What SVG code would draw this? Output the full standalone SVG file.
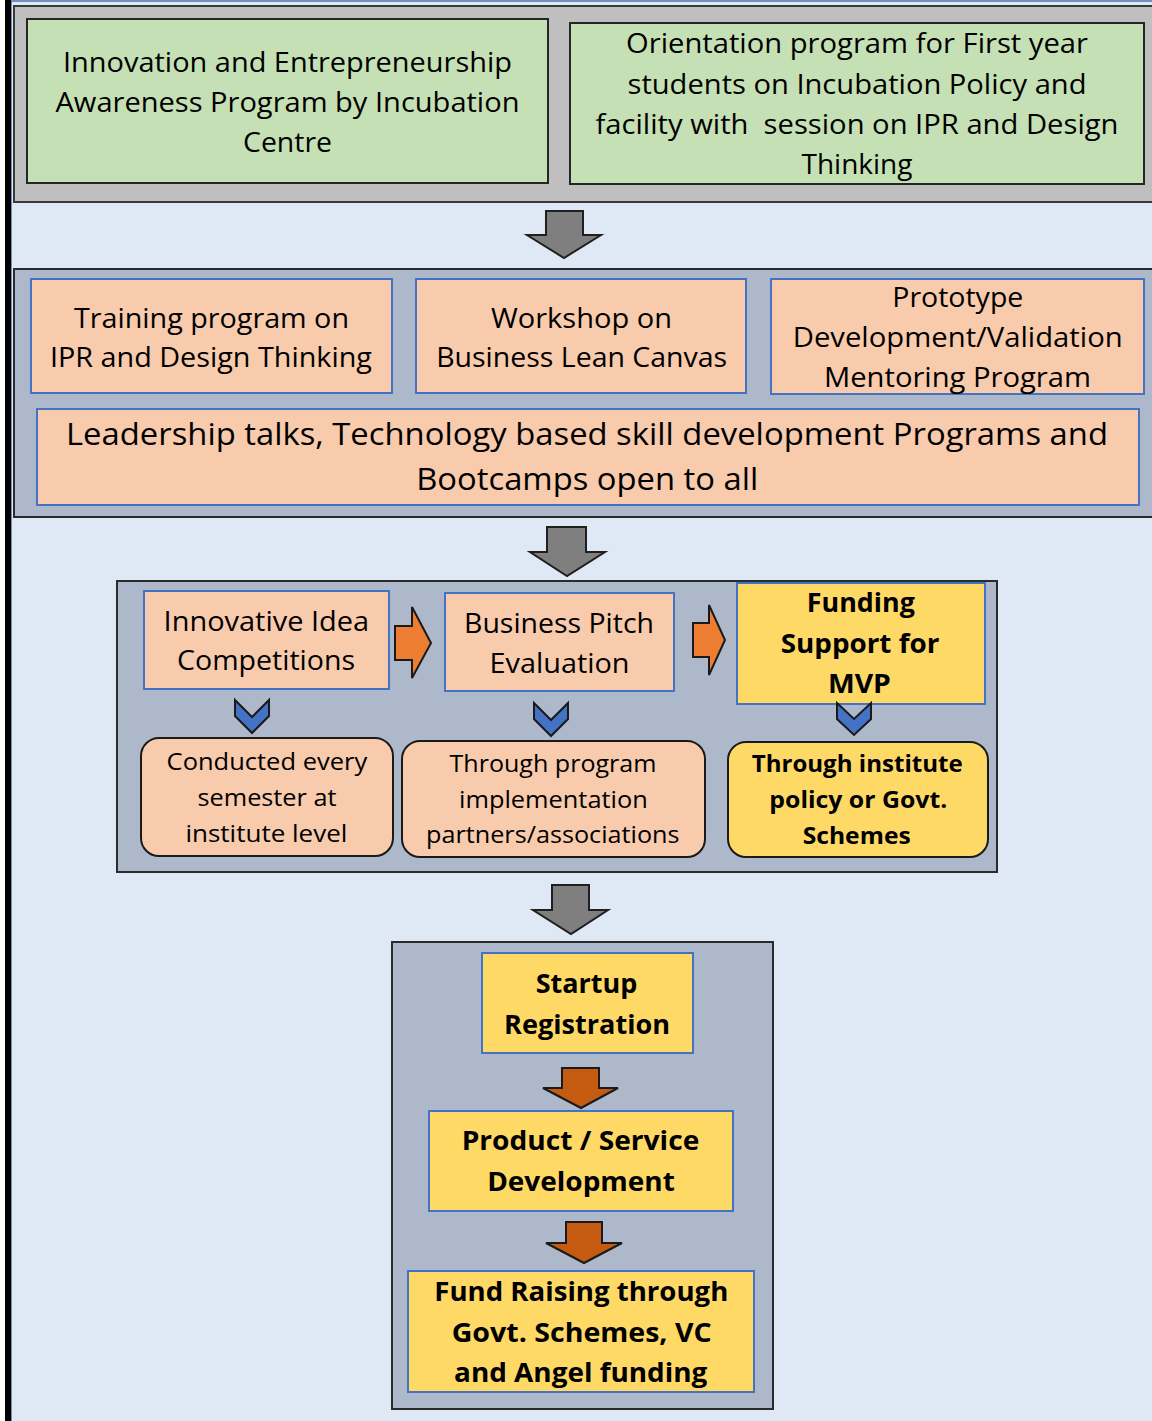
<svg xmlns="http://www.w3.org/2000/svg" width="1152" height="1421" viewBox="0 0 1152 1421">
<style>
text{font-family:"Open Sans","Noto Sans","Liberation Sans",sans-serif;fill:#000;text-anchor:middle}
.t28{font-size:28px}
.t31{font-size:31px}
.t24{font-size:24px}
.b27{font-size:27px;font-weight:bold}
.b24{font-size:24px;font-weight:bold}
.panel{fill:#adb9ca;stroke:#2b2b2b;stroke-width:2}
.gpanel{fill:#bfbfbf;stroke:#3a3a3a;stroke-width:2}
.green{fill:#c5e0b4;stroke:#262626;stroke-width:2}
.peach{fill:#f8cbad;stroke:#4472c4;stroke-width:2}
.yellow{fill:#ffd966;stroke:#4472c4;stroke-width:2}
.rpeach{fill:#f8cbad;stroke:#1a1a1a;stroke-width:2}
.ryellow{fill:#ffd966;stroke:#1a1a1a;stroke-width:2}
.garrow{fill:#7f7f7f;stroke:#1f1f1f;stroke-width:2;stroke-linejoin:miter}
.oarrow{fill:#ed7d31;stroke:#1a1a1a;stroke-width:2}
.barrow{fill:#c55a11;stroke:#1a1a1a;stroke-width:2}
.chev{fill:#4472c4;stroke:#1a1a1a;stroke-width:2}
</style>
<rect x="0" y="0" width="1152" height="1421" fill="#ffffff"/>
<rect x="11" y="1" width="1150" height="1430" fill="#dee9f5" stroke="#4a6fa5" stroke-width="1.5"/>
<rect x="5" y="0" width="6" height="1421" fill="#000"/>

<g id="panel-awareness">
<rect class="gpanel" x="14" y="6" width="1150" height="196"/>
</g>
<g id="node-awareness-program">
<rect class="green" x="27" y="19" width="521" height="164"/>
<text class="t28" x="287.5" y="72" textLength="449" lengthAdjust="spacingAndGlyphs">Innovation and Entrepreneurship</text>
<text class="t28" x="287.5" y="112" textLength="464" lengthAdjust="spacingAndGlyphs">Awareness Program by Incubation</text>
<text class="t28" x="287.5" y="152" textLength="89" lengthAdjust="spacingAndGlyphs">Centre</text>
</g>
<g id="node-orientation">
<rect class="green" x="570" y="23" width="574" height="161"/>
<text class="t28" x="857" y="53" textLength="462" lengthAdjust="spacingAndGlyphs">Orientation program for First year</text>
<text class="t28" x="857" y="94" textLength="459" lengthAdjust="spacingAndGlyphs">students on Incubation Policy and</text>
<text class="t28" x="857" y="134" textLength="523" lengthAdjust="spacingAndGlyphs" style="white-space:pre">facility with  session on IPR and Design</text>
<text class="t28" x="857" y="174" textLength="111" lengthAdjust="spacingAndGlyphs">Thinking</text>
</g>

<g id="panel-training">
<rect class="panel" x="14" y="269" width="1150" height="248"/>
</g>
<g id="node-ipr-training">
<rect class="peach" x="31" y="279" width="361" height="114"/>
<text class="t28" x="211.5" y="328" textLength="275" lengthAdjust="spacingAndGlyphs">Training program on</text>
<text class="t28" x="211" y="367" textLength="322" lengthAdjust="spacingAndGlyphs">IPR and Design Thinking</text>
</g>
<g id="node-lean-canvas">
<rect class="peach" x="416" y="279" width="330" height="114"/>
<text class="t28" x="581.5" y="328" textLength="181" lengthAdjust="spacingAndGlyphs">Workshop on</text>
<text class="t28" x="581.7" y="367" textLength="291" lengthAdjust="spacingAndGlyphs">Business Lean Canvas</text>
</g>
<g id="node-prototype">
<rect class="peach" x="771" y="279" width="373" height="115"/>
<text class="t28" x="957.8" y="307" textLength="131" lengthAdjust="spacingAndGlyphs">Prototype</text>
<text class="t28" x="957.7" y="347" textLength="330" lengthAdjust="spacingAndGlyphs">Development/Validation</text>
<text class="t28" x="957.5" y="387" textLength="267" lengthAdjust="spacingAndGlyphs">Mentoring Program</text>
</g>
<g id="node-leadership">
<rect class="peach" x="37" y="409" width="1102" height="96"/>
<text class="t31" x="587" y="445" textLength="1042" lengthAdjust="spacingAndGlyphs">Leadership talks, Technology based skill development Programs and</text>
<text class="t31" x="587.2" y="490" textLength="342" lengthAdjust="spacingAndGlyphs">Bootcamps open to all</text>
</g>

<g id="panel-ideas">
<rect class="panel" x="117" y="581" width="880" height="291"/>
</g>
<g id="node-idea-competitions">
<rect class="peach" x="144" y="591" width="245" height="98"/>
<text class="t28" x="266.3" y="631" textLength="205.5" lengthAdjust="spacingAndGlyphs">Innovative Idea</text>
<text class="t28" x="266" y="670" textLength="178" lengthAdjust="spacingAndGlyphs">Competitions</text>
</g>
<g id="node-pitch">
<rect class="peach" x="445" y="593" width="229" height="98"/>
<text class="t28" x="559" y="633" textLength="190" lengthAdjust="spacingAndGlyphs">Business Pitch</text>
<text class="t28" x="559.5" y="673" textLength="140" lengthAdjust="spacingAndGlyphs">Evaluation</text>
</g>
<g id="node-mvp">
<rect class="yellow" x="737" y="583" width="248" height="121"/>
<text class="b27" x="860.8" y="612" textLength="108" lengthAdjust="spacingAndGlyphs">Funding</text>
<text class="b27" x="860" y="653" textLength="158.6" lengthAdjust="spacingAndGlyphs">Support for</text>
<text class="b27" x="859.4" y="693" textLength="63" lengthAdjust="spacingAndGlyphs">MVP</text>
</g>
<g id="node-every-semester">
<rect class="rpeach" x="141" y="738" width="252" height="118" rx="18"/>
<text class="t24" x="266.9" y="770" textLength="200.6" lengthAdjust="spacingAndGlyphs">Conducted every</text>
<text class="t24" x="267" y="806" textLength="139" lengthAdjust="spacingAndGlyphs">semester at</text>
<text class="t24" x="266.4" y="842" textLength="162" lengthAdjust="spacingAndGlyphs">institute level</text>
</g>
<g id="node-partners">
<rect class="rpeach" x="402" y="741" width="303" height="116" rx="18"/>
<text class="t24" x="553" y="772" textLength="207" lengthAdjust="spacingAndGlyphs">Through program</text>
<text class="t24" x="553.4" y="808" textLength="188.7" lengthAdjust="spacingAndGlyphs">implementation</text>
<text class="t24" x="552.8" y="843" textLength="253.5" lengthAdjust="spacingAndGlyphs">partners/associations</text>
</g>
<g id="node-govt-schemes">
<rect class="ryellow" x="728" y="742" width="260" height="115" rx="18"/>
<text class="b24" x="857.2" y="772" textLength="211" lengthAdjust="spacingAndGlyphs">Through institute</text>
<text class="b24" x="858.3" y="808" textLength="178" lengthAdjust="spacingAndGlyphs">policy or Govt.</text>
<text class="b24" x="856.7" y="844" textLength="108" lengthAdjust="spacingAndGlyphs">Schemes</text>
</g>

<g id="panel-startup">
<rect class="panel" x="392" y="942" width="381" height="467"/>
</g>
<g id="node-startup-registration">
<rect class="yellow" x="482" y="953" width="211" height="100"/>
<text class="b27" x="586.5" y="993" textLength="101.6" lengthAdjust="spacingAndGlyphs">Startup</text>
<text class="b27" x="587" y="1034" textLength="166" lengthAdjust="spacingAndGlyphs">Registration</text>
</g>
<g id="node-product-development">
<rect class="yellow" x="429" y="1111" width="304" height="100"/>
<text class="b27" x="580.5" y="1150" textLength="237.6" lengthAdjust="spacingAndGlyphs">Product / Service</text>
<text class="b27" x="581" y="1191" textLength="187.7" lengthAdjust="spacingAndGlyphs">Development</text>
</g>
<g id="node-fund-raising">
<rect class="yellow" x="408" y="1271" width="346" height="121"/>
<text class="b27" x="581.3" y="1301" textLength="294" lengthAdjust="spacingAndGlyphs">Fund Raising through</text>
<text class="b27" x="581.7" y="1342" textLength="260" lengthAdjust="spacingAndGlyphs">Govt. Schemes, VC</text>
<text class="b27" x="580.7" y="1382" textLength="253.3" lengthAdjust="spacingAndGlyphs">and Angel funding</text>
</g>

<g id="connectors">
<path class="garrow" d="M546,211 H583 V235 H601 L564,258 L527,235 H546 Z"/>
<path class="garrow" d="M547,527 H586 V552 H605 L567,576 L530,552 H547 Z"/>
<path class="garrow" d="M552,885 H589 V910 H608 L571,934 L533,910 H552 Z"/>
<path class="oarrow" d="M395,626 H412 V607 L431,643 L412,678 V660 H395 Z"/>
<path class="oarrow" d="M693,623 H709 V605 L725,640 L709,675 V657 H693 Z"/>
<path class="chev" d="M235,700 L252,717 L269,700 V716 L252,733 L235,716 Z"/>
<path class="chev" d="M534,703 L551,720 L568,703 V719 L551,736 L534,719 Z"/>
<path class="chev" d="M837,703 L854,719 L871,703 V719 L854,735 L837,719 Z"/>
<path class="barrow" d="M562,1068 H599 V1088 H618 L581,1108 L543,1088 H562 Z"/>
<path class="barrow" d="M566,1222 H602 V1243 H622 L584,1263 L546,1243 H566 Z"/>
</g>
</svg>
